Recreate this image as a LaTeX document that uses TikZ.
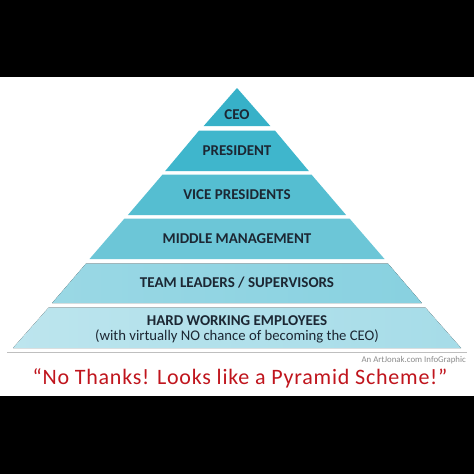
\documentclass[tikz,border=0pt]{standalone}
\usepackage{fontspec}
\setmainfont{Carlito}
\definecolor{tA}{HTML}{37B1C8}
\definecolor{tB}{HTML}{3FB6CC}
\definecolor{tC}{HTML}{55BED1}
\definecolor{tD}{HTML}{6CC6D7}
\definecolor{tE}{HTML}{88D1E0}
\definecolor{tF}{HTML}{A6DCE8}
\definecolor{ink}{HTML}{1C2733}
\definecolor{quote}{HTML}{C0151D}
\begin{document}
\begin{tikzpicture}[x=1pt,y=-1pt,
  lab/.style={font=\fontsize{15}{16}\selectfont\bfseries, text=ink, inner sep=0pt},
  sub/.style={font=\fontsize{14.7}{16}\selectfont, text=ink, inner sep=0pt}]
\useasboundingbox (0,0) rectangle (474,474);
\fill[white] (0,0) rectangle (474,474);
\fill[black] (0,0) rectangle (474,77);
\fill[black] (0,396) rectangle (474,474);
% tiers: x_left(y) = 237 - 0.862*(y-88)
\fill[tA] (237,88) -- (270.3,126) -- (203.7,126) -- cycle;
\fill[tB] (199.1,130.5) -- (274.9,130.5) -- (308.8,171) -- (165.2,171) -- cycle;
\fill[tC] (162.6,174.5) -- (311.4,174.5) -- (346.1,215) -- (127.9,215) -- cycle;
\fill[tD] (124.5,218.5) -- (349.5,218.5) -- (384.5,259) -- (89.5,259) -- cycle;
\fill[left color=tE!85!white, right color=tE] (86.1,263.5) -- (387.9,263.5) -- (421.8,303) -- (52.2,303) -- cycle;
\fill[left color=tF!75!white, right color=tF] (48.7,307.5) -- (425.3,307.5) -- (461,348) -- (13,348) -- cycle;
% labels
\node[lab] (ceo) at (237,115) {CEO};
\node[lab] (pres) at (237,151) {PRESIDENT};
\node[lab] (vp) at (237,195) {VICE PRESIDENTS};
\node[lab] (mm) at (237,239) {MIDDLE MANAGEMENT};
\node[lab] (tl) at (237,283) {TEAM LEADERS / SUPERVISORS};
\node[lab] (hw) at (237,321) {HARD WORKING EMPLOYEES};
\node[sub] (hw2) at (237,336) {(with virtually NO chance of becoming the CEO)};
% rule and credit
\draw[black!25, line width=1.5pt] (7,352.5) -- (467,352.5);
\node[anchor=east, inner sep=0pt, text=black!45, font=\fontsize{8.8}{9}\selectfont] (credit) at (466,360) {An ArtJonak.com InfoGraphic};
\node[inner sep=0pt, text=quote, font=\fontsize{22}{24}\selectfont\addfontfeatures{LetterSpace=3.5}] (q) at (240,378) {“No Thanks! Looks like a Pyramid Scheme!”};
\end{tikzpicture}
\end{document}
